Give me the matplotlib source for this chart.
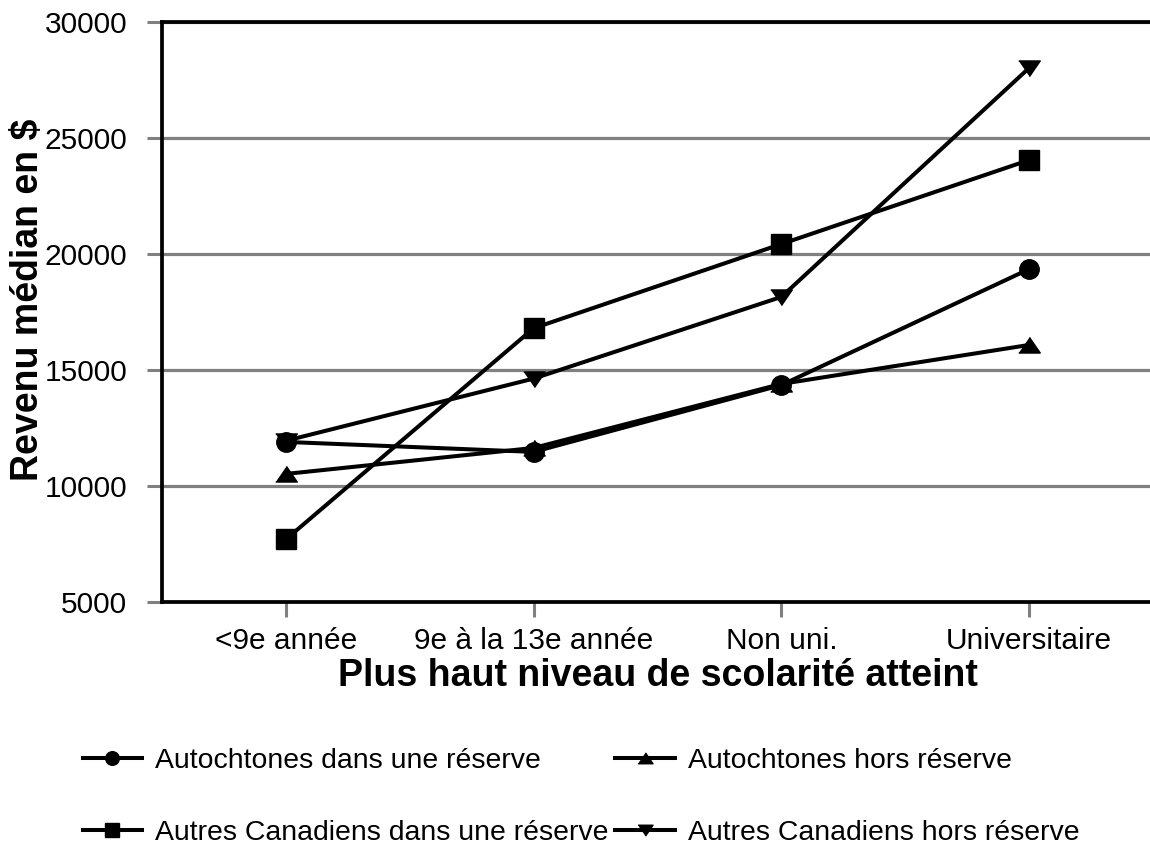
import matplotlib
matplotlib.use("Agg")
import matplotlib.pyplot as plt

plt.rcParams['font.family'] = ['Liberation Sans', 'DejaVu Sans']

categories = ["<9e année", "9e à la 13e année", "Non uni.", "Universitaire"]
autochtones_reserve = [11900, 11470, 14350, 19350]
autochtones_hors = [10520, 11640, 14400, 16080]
autres_reserve = [7700, 16800, 20430, 24050]
autres_hors = [11950, 14630, 18150, 28020]

series_labels = ["Autochtones dans une réserve", "Autochtones hors réserve",
                 "Autres Canadiens dans une réserve", "Autres Canadiens hors réserve"]
yticks = [5000, 10000, 15000, 20000, 25000, 30000]

tri_up = [(-1, -0.7), (1, -0.7), (0, 0.75)]
tri_down = [(-1, 0.7), (1, 0.7), (0, -0.75)]

fig = plt.figure(figsize=(11.5, 8.46), dpi=100)
W, H = 1150, 846
ax = fig.add_axes([162 / W, 1 - 602 / H, (1153 - 162) / W, (602 - 22) / H])

x = list(range(len(categories)))
styles = [
    (autochtones_reserve, 'o', 14),
    (autochtones_hors, tri_up, 15.5),
    (autres_reserve, 's', 15),
    (autres_hors, tri_down, 15.5),
]
for (vals, mk, ms), lab in zip(styles, series_labels):
    ax.plot(x, vals, color='black', linewidth=2.9, marker=mk, markersize=ms,
            markerfacecolor='black', markeredgecolor='black', label=lab, zorder=3)

ax.set_xlim(-0.5, 3.5)
ax.set_ylim(5000, 30000)
ax.set_yticks(yticks)
ax.set_yticklabels([str(v) for v in yticks])
ax.set_xticks(x)
ax.set_xticklabels(categories)

ax.yaxis.grid(True, color='#808080', linewidth=2.3, zorder=0)
ax.set_axisbelow(True)

for s in ['left', 'bottom', 'top']:
    ax.spines[s].set_color('black')
    ax.spines[s].set_linewidth(2.7)
ax.spines['right'].set_visible(False)

ax.tick_params(axis='y', which='major', length=11, width=2.2, color='#808080',
               labelsize=21.5, pad=14)
ax.tick_params(axis='x', which='major', length=11, width=2.2, color='#808080',
               labelsize=21.5, pad=7)

ax.set_xlabel("Plus haut niveau de scolarité atteint", fontsize=27, fontweight='bold',
              labelpad=2)
fig.text(28 / W, 1 - 300 / H, "Revenu médian en $", rotation=90, fontsize=27,
         fontweight='bold', ha='center', va='center')

handles, labels = ax.get_legend_handles_labels()
order = [0, 2, 1, 3]
leg = fig.legend([handles[i] for i in order], [labels[i] for i in order], ncol=2,
                 loc='center', bbox_to_anchor=(581 / W, 1 - 797 / H), frameon=False,
                 fontsize=20.4, handlelength=2.1, handletextpad=0.45,
                 columnspacing=0.25, labelspacing=1.62, numpoints=1,
                 markerscale=0.7)

fig.savefig("out.png", dpi=100)
